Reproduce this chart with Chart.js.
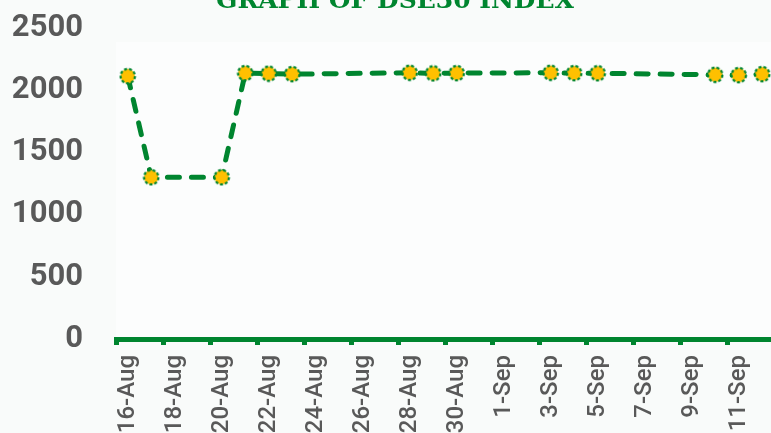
<!DOCTYPE html>
<html>
<head>
<meta charset="utf-8">
<title>DSE30 Index</title>
<script src="https://cdn.jsdelivr.net/npm/chart.js@4.4.1/dist/chart.umd.min.js"></script>
<style>
    html, body {
        margin: 0;
        padding: 0;
        width: 771px;
        height: 433px;
        overflow: hidden;
        background: #f9fbfa;
    }
    #title {
        position: absolute;
        left: 0;
        width: 790px;
        top: -13px;
        text-align: center;
        font-family: "DejaVu Serif", serif;
        font-weight: bold;
        font-size: 25px;
        line-height: 1;
        color: #00852f;
        white-space: nowrap;
    }
    #wrap {
        position: absolute;
        left: 0;
        top: 0;
    }
</style>
</head>
<body>
<div id="wrap"><canvas id="dseChart" width="840" height="480"></canvas></div>
<div id="title">GRAPH OF DSE30 INDEX</div>
<script>
// one category per calendar day, values only on trading days
const days = [
    '16-Aug', '17-Aug', '18-Aug', '19-Aug', '20-Aug', '21-Aug', '22-Aug', '23-Aug',
    '24-Aug', '25-Aug', '26-Aug', '27-Aug', '28-Aug', '29-Aug', '30-Aug', '31-Aug',
    '1-Sep', '2-Sep', '3-Sep', '4-Sep', '5-Sep', '6-Sep', '7-Sep', '8-Sep',
    '9-Sep', '10-Sep', '11-Sep', '12-Sep', '13-Sep', '14-Sep'
];
const dse30 = [
    2113, 1300, null, null, 1300, 2137, 2133, 2129,
    null, null, null, null, 2140, 2135, 2137, null,
    null, null, 2140, 2137, 2136, null, null, null,
    null, 2124, 2121, 2129, null, null
];
const yTicks = [0, 500, 1000, 1500, 2000, 2500];

const GREEN = '#00852f';
const YELLOW = '#FFC000';
const GREY = '#595959';

function makeMarker() {
    const c = document.createElement('canvas');
    c.width = 18;
    c.height = 18;
    const ctx = c.getContext('2d');
    ctx.beginPath();
    ctx.arc(9, 9, 7.2, 0, Math.PI * 2);
    ctx.fillStyle = YELLOW;
    ctx.fill();
    ctx.setLineDash([3, 2]);
    ctx.lineWidth = 2.2;
    ctx.strokeStyle = GREEN;
    ctx.stroke();
    return c;
}

const plotBg = {
    id: 'plotBg',
    beforeDraw(chart) {
        const a = chart.chartArea;
        const ctx = chart.ctx;
        ctx.save();
        ctx.fillStyle = '#fcfdfd';
        ctx.fillRect(a.left, a.top + 14, a.right - a.left, a.bottom - a.top - 14);
        ctx.restore();
    }
};

// tick marks only every second day
const everyOther = (ctx) => ctx.index % 2 === 0;

new Chart(document.getElementById('dseChart'), {
    type: 'line',
    data: {
        labels: days,
        datasets: [{
            label: 'DSE30',
            data: dse30,
            spanGaps: true,
            borderColor: GREEN,
            borderWidth: 5,
            borderDash: [12, 12],
            borderCapStyle: 'round',
            tension: 0,
            pointStyle: makeMarker(),
            pointRadius: 8
        }]
    },
    options: {
        responsive: false,
        animation: false,
        layout: {
            padding: { top: 28, right: 19, bottom: 0, left: 0 }
        },
        plugins: {
            legend: { display: false },
            tooltip: { enabled: false }
        },
        scales: {
            x: {
                offset: true,
                afterFit: (scale) => {
                    scale.height = 141;
                    scale.paddingLeft = 0;
                    scale.paddingRight = 0;
                },
                grid: {
                    offset: true,
                    drawOnChartArea: false,
                    drawTicks: true,
                    tickLength: 6,
                    color: (ctx) => everyOther(ctx) ? GREEN : 'rgba(0,0,0,0)',
                    lineWidth: (ctx) => everyOther(ctx) ? 5 : 0
                },
                border: { display: true, color: GREEN, width: 5 },
                ticks: {
                    autoSkip: false,
                    minRotation: 90,
                    maxRotation: 90,
                    padding: 10,
                    color: GREY,
                    font: { family: 'Roboto', size: 24, weight: '500' },
                    callback: function(value, index) {
                        return index % 2 === 0 ? days[index] : '';
                    }
                }
            },
            y: {
                min: yTicks[0],
                max: yTicks[yTicks.length - 1],
                afterFit: (scale) => {
                    scale.width = 116;
                    scale.paddingTop = 0;
                    scale.paddingBottom = 0;
                },
                grid: { display: false, drawTicks: false },
                border: { display: false },
                ticks: {
                    stepSize: 500,
                    padding: 33,
                    color: GREY,
                    font: { family: 'Roboto', size: 31, weight: 'bold' },
                    callback: (value) => String(value)
                }
            }
        }
    },
    plugins: [plotBg]
});
</script>
</body>
</html>
